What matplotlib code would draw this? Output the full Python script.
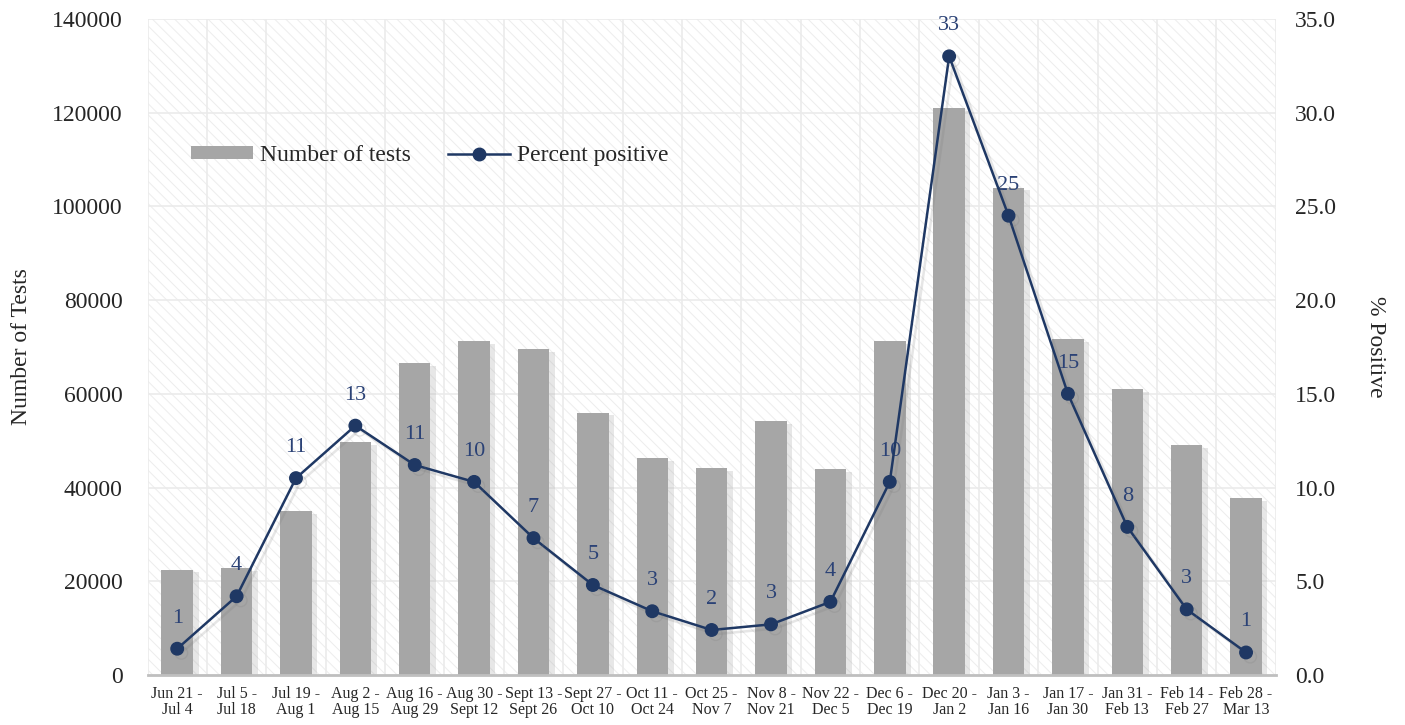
import matplotlib
matplotlib.use("Agg")
import matplotlib.pyplot as plt
import matplotlib.patheffects as pe
from matplotlib.lines import Line2D
from matplotlib.patches import Patch, Rectangle
import numpy as np

plt.rcParams["font.family"] = ["Liberation Serif", "DejaVu Serif"]
plt.rcParams["hatch.linewidth"] = 0.7

periods = [
    "Jun 21 -\nJul 4", "Jul 5 -\nJul 18", "Jul 19 -\nAug 1", "Aug 2 -\nAug 15",
    "Aug 16 -\nAug 29", "Aug 30 -\nSept 12", "Sept 13 -\nSept 26", "Sept 27 -\nOct 10",
    "Oct 11 -\nOct 24", "Oct 25 -\nNov 7", "Nov 8 -\nNov 21", "Nov 22 -\nDec 5",
    "Dec 6 -\nDec 19", "Dec 20 -\nJan 2", "Jan 3 -\nJan 16", "Jan 17 -\nJan 30",
    "Jan 31 -\nFeb 13", "Feb 14 -\nFeb 27", "Feb 28 -\nMar 13",
]
num_tests = [22500, 22800, 34900, 49700, 66500, 71200, 69500, 56000, 46200,
             44200, 54200, 44000, 71200, 120900, 104000, 71600, 61000, 49000, 37700]
pct_positive = [1.4, 4.2, 10.5, 13.3, 11.2, 10.3, 7.3, 4.8, 3.4,
                2.4, 2.7, 3.9, 10.3, 33.0, 24.5, 15.0, 7.9, 3.5, 1.2]
pct_labels = ["1", "4", "11", "13", "11", "10", "7", "5", "3", "2",
              "3", "4", "10", "33", "25", "15", "8", "3", "1"]

BAR_COLOR = "#A6A6A6"
LINE_COLOR = "#1F3864"
LABEL_COLOR = "#2B4276"
GRID_COLOR = "#EBEBEB"
TEXT_COLOR = "#262626"

fig = plt.figure(figsize=(14.05, 7.25), dpi=100)
ax = fig.add_axes([0.105, 0.069, 0.803, 0.905])
x = np.arange(len(periods))

# hatched plot background
ax.add_patch(Rectangle((0, 0), 1, 1, transform=ax.transAxes, facecolor="white",
                       edgecolor="#EDEDED", hatch="\\\\\\", linewidth=0, zorder=0))

ax.bar(x, num_tests, width=0.53, color=BAR_COLOR, zorder=3,
       path_effects=[pe.SimplePatchShadow(offset=(4, -2), shadow_rgbFace="#b0b0b0", alpha=0.3),
                     pe.Normal()])
ax.set_xlim(-0.5, len(periods) - 0.5)
ax.set_ylim(0, 140000)
ax.set_yticks(np.arange(0, 140001, 20000))
ax.set_xticks(x)
ax.set_xticklabels(periods, fontsize=11.5, color=TEXT_COLOR, linespacing=1.0)
ax.tick_params(axis="x", length=0, pad=8)
ax.tick_params(axis="y", length=0, pad=18, labelsize=17, colors=TEXT_COLOR)
ax.set_ylabel("Number of Tests", fontsize=17, color=TEXT_COLOR, labelpad=14)

for yv in np.arange(20000, 140001, 20000):
    ax.axhline(yv, color=GRID_COLOR, lw=1.2, zorder=1)
for xv in np.arange(-0.5, len(periods), 1.0):
    ax.axvline(xv, color=GRID_COLOR, lw=1.2, zorder=1)

for side in ["top", "left", "right"]:
    ax.spines[side].set_visible(False)
ax.spines["bottom"].set_color("#BFBFBF")
ax.spines["bottom"].set_linewidth(2)
ax.spines["bottom"].set_zorder(5)

ax2 = ax.twinx()
ax2.patch.set_visible(False)
ax2.plot(x, pct_positive, color=LINE_COLOR, lw=1.8, marker="o", markersize=9,
         zorder=4,
         path_effects=[pe.SimpleLineShadow(offset=(3, -3), shadow_color="#777777", alpha=0.18),
                       pe.Normal()])
for xi, yi, lab in zip(x, pct_positive, pct_labels):
    ax2.annotate(lab, (xi, yi), xytext=(0, 22), textcoords="offset points",
                 ha="center", va="center", fontsize=16, color=LABEL_COLOR)
ax2.set_ylim(0, 35)
ax2.set_yticks(np.arange(0, 35.1, 5))
ax2.set_yticklabels([f"{v:.1f}" for v in np.arange(0, 35.1, 5)])
ax2.tick_params(axis="y", length=0, labelsize=17, colors=TEXT_COLOR, pad=14)
ax2.set_ylabel("% Positive", fontsize=17, color=TEXT_COLOR, rotation=270, labelpad=36)
for side in ["top", "left", "right", "bottom"]:
    ax2.spines[side].set_visible(False)

handles = [Patch(facecolor=BAR_COLOR, edgecolor="none"),
           Line2D([], [], color=LINE_COLOR, lw=1.8, marker="o", markersize=9)]
ax2.legend(handles, ["Number of tests", "Percent positive"], loc="upper left",
           bbox_to_anchor=(0.02, 0.84), ncol=2, frameon=False, fontsize=17,
           handlelength=2.6, handleheight=0.5, handletextpad=0.3, columnspacing=1.6,
           labelcolor=TEXT_COLOR)

fig.savefig("out.png", dpi=100)
